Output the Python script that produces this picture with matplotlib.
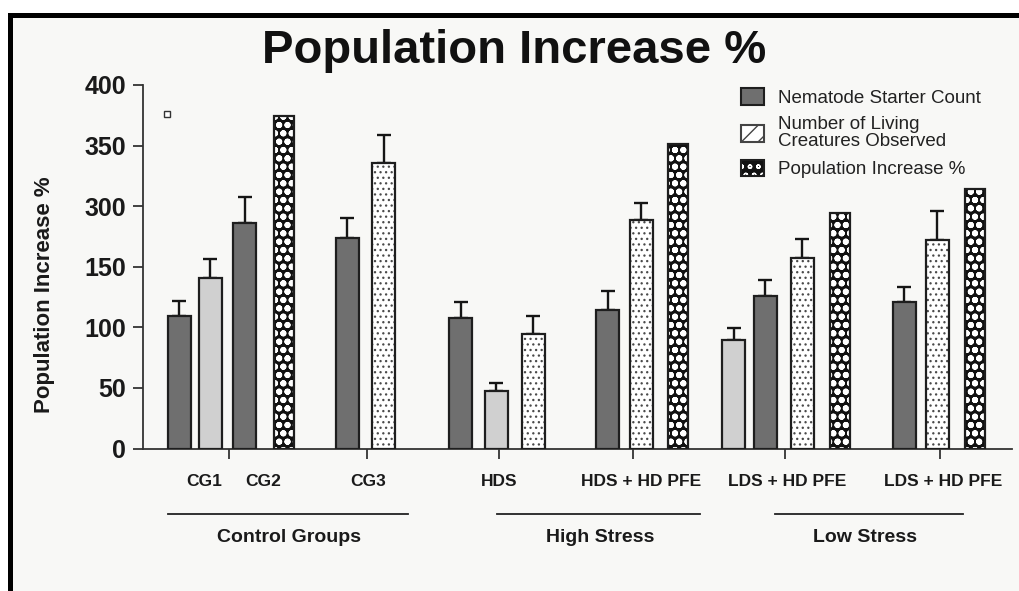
import matplotlib
matplotlib.use("Agg")
import matplotlib.pyplot as plt
from matplotlib.patches import Patch, Rectangle
from matplotlib.legend_handler import HandlerTuple

# ---------------- data ----------------
# bar kinds: dark = Nematode Starter Count, light = light-grey bar,
# dotted = Number of Living Creatures Observed, checker = Population Increase %
bar_kind = ["dark", "light", "dark", "checker", "dark", "dotted",
            "dark", "light", "dotted", "dark", "dotted", "checker",
            "light", "dark", "dotted", "checker", "dark", "dotted", "checker"]
# bar heights in axis position units (tick positions 0..300 step 50)
bar_values = [109.6, 141.0, 185.9, 274.4, 173.5, 235.4,
              107.7, 47.5, 94.7, 114.3, 188.6, 251.3,
              89.8, 125.9, 157.0, 194.1, 121.2, 172.1, 214.2]
# upper end of error bar (None = no error bar)
err_tops = [121.7, 156.1, 207.3, None, 190.5, 259.0,
            120.9, 53.8, 109.6, 130.0, 202.4, None,
            99.2, 138.8, 172.7, None, 133.0, 196.0, None]

ytick_labels = ["0", "50", "100", "150", "300", "350", "400"]
category_labels = ["CG1", "CG2", "CG3", "HDS", "HDS + HD PFE",
                   "LDS + HD PFE", "LDS + HD PFE"]
group_labels = ["Control Groups", "High Stress", "Low Stress"]
legend_labels = ["Nematode Starter Count",
                 "Number of Living\nCreatures Observed",
                 "Population Increase %"]

# ---------------- layout (figure pixels / axis units) ----------------
W, H = 1020, 591
bar_x = [179.5, 210.5, 245, 284, 347.5, 384,
         461, 496.5, 533.5, 608, 641.5, 678,
         734, 765.5, 802.5, 840.5, 904.5, 937.5, 975]
xtick_pos = [229, 367, 499, 633, 785, 940]
cat_label_x = [204, 263, 368, 499, 641, 787, 943]
group_line_x = [(168, 408), (497, 700), (775, 963)]
group_label_x = [289, 600, 865]

width_by_kind = {"dark": 23, "light": 23, "dotted": 23, "checker": 20}
DARK = "#6f6f6f"
LIGHT = "#d0d0d0"
EDGE = "#1e1e1e"
BG = "#f8f8f6"

plt.rcParams["font.family"] = ["Liberation Sans", "DejaVu Sans"]

fig = plt.figure(figsize=(W / 100, H / 100), dpi=100)
fig.patch.set_facecolor("white")

# background panel + black frame (top and left)
fig.patches.append(Rectangle((8 / W, 0), 1 - 8 / W, 1 - 13 / H,
                             transform=fig.transFigure, facecolor=BG,
                             edgecolor="none", zorder=-10))
fig.patches.append(Rectangle((8 / W, 1 - 17.5 / H), 1 - 8 / W, 4.5 / H,
                             transform=fig.transFigure, facecolor="black",
                             edgecolor="none", zorder=-9))
fig.patches.append(Rectangle((8 / W, 0), 4.8 / W, 1 - 13 / H,
                             transform=fig.transFigure, facecolor="black",
                             edgecolor="none", zorder=-9))

y0_px, ytop_px = 448.5, 85
ax_left, ax_right = 143, 1012
ax = fig.add_axes([ax_left / W, (H - y0_px) / H,
                   (ax_right - ax_left) / W, (y0_px - ytop_px) / H])
ax.set_facecolor("none")
ax.set_xlim(ax_left, ax_right)
ax.set_ylim(0, 300)

DOT_LW = 0.9
CHECK_LW = 2.0
CHECK_HATCH = "oo"

for x, v, e, k in zip(bar_x, bar_values, err_tops, bar_kind):
    w = width_by_kind[k]
    if k == "dark":
        ax.bar(x, v, width=w, color=DARK, edgecolor=EDGE, linewidth=1.6, zorder=3)
    elif k == "light":
        ax.bar(x, v, width=w, color=LIGHT, edgecolor=EDGE, linewidth=1.6, zorder=3)
    elif k == "dotted":
        with plt.rc_context({"hatch.linewidth": DOT_LW}):
            ax.bar(x, v, width=w, color="white", edgecolor="#4a4a4a",
                   hatch="...", linewidth=0, zorder=3)
        ax.bar(x, v, width=w, fill=False, edgecolor=EDGE, linewidth=1.6, zorder=4)
    else:
        with plt.rc_context({"hatch.linewidth": CHECK_LW}):
            ax.bar(x, v, width=w, color="#111111", edgecolor="white",
                   hatch=CHECK_HATCH, linewidth=0, zorder=3)
        ax.bar(x, v, width=w, fill=False, edgecolor=EDGE, linewidth=1.6, zorder=4)
    if e is not None:
        ax.errorbar(x, v, yerr=[[0], [e - v]], fmt="none", ecolor="#151515",
                    elinewidth=1.7, capsize=5, capthick=1.7, zorder=2)

# stray small square marker in the reference
ax.plot([167], [(y0_px - 114) / ((y0_px - ytop_px) / 300)], marker="s",
        ms=5, mfc="white", mec="#333333", mew=1.0, ls="none", zorder=5)

# axes styling
for s in ["top", "right"]:
    ax.spines[s].set_visible(False)
for s in ["left", "bottom"]:
    ax.spines[s].set_linewidth(1.3)
    ax.spines[s].set_color("#333333")
ax.set_yticks(range(0, 301, 50))
ax.set_yticklabels(ytick_labels, fontsize=18, fontweight="bold", color="#1a1a1a")
ax.set_xticks(xtick_pos)
ax.set_xticklabels([])
ax.tick_params(axis="both", direction="out", length=7, width=1.3, color="#333333")
ax.tick_params(axis="y", pad=5)

# y label
fig.text(45 / W, 1 - 295 / H, "Population Increase %", rotation=90,
         ha="center", va="center", fontsize=16, fontweight="bold", color="#1a1a1a")

# title
fig.text(514 / W, 1 - 51 / H, "Population Increase %", ha="center",
         va="center", fontsize=34, fontweight="bold", color="#111111")

# category labels
for lx, lab in zip(cat_label_x, category_labels):
    fig.text(lx / W, 1 - 481 / H, lab, ha="center", va="center",
             fontsize=12.5, fontweight="bold", color="#1a1a1a")

# group lines + labels
for (x1, x2), gx, lab in zip(group_line_x, group_label_x, group_labels):
    fig.add_artist(plt.Line2D([x1 / W, x2 / W], [1 - 514 / H, 1 - 514 / H],
                              transform=fig.transFigure, color="#222222", lw=1.3))
    fig.text(gx / W, 1 - 538 / H, lab, ha="center", va="center",
             fontsize=14, fontweight="bold", color="#1a1a1a")

# legend
h1 = Patch(facecolor=DARK, edgecolor=EDGE, linewidth=1.5)
with plt.rc_context({"hatch.linewidth": 1.0}):
    h2 = Patch(facecolor="white", edgecolor="#444444", hatch="//", linewidth=1.5)
with plt.rc_context({"hatch.linewidth": CHECK_LW}):
    h3a = Patch(facecolor="#111111", edgecolor="white", hatch=CHECK_HATCH, linewidth=0)
h3b = Patch(fill=False, edgecolor=EDGE, linewidth=1.5)
leg = ax.legend([h1, h2, (h3a, h3b)], legend_labels,
                handler_map={tuple: HandlerTuple(ndivide=1, pad=0)},
                loc="upper left", bbox_to_anchor=(741 / W, 1 - 88 / H),
                bbox_transform=fig.transFigure, frameon=False,
                fontsize=13.5, handlelength=1.25, handleheight=1.0,
                handletextpad=0.7, labelspacing=0.5, borderpad=0,
                borderaxespad=0)
for t in leg.get_texts():
    t.set_color("#222222")
    t.set_linespacing(1.0)

fig.savefig("out.png", dpi=100, facecolor=fig.get_facecolor())
